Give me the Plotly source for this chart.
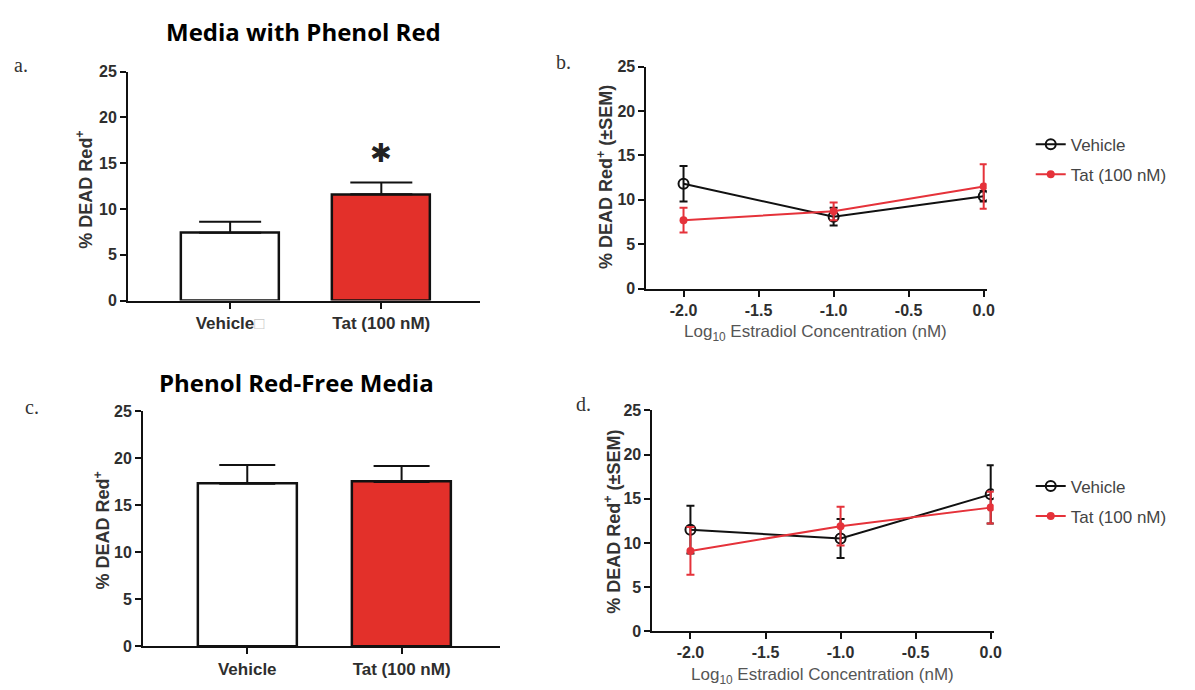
import plotly.graph_objects as go

W, H = 1195, 690

# ---------------- data ----------------
bar_categories = ["Vehicle", "Tat (100 nM)"]
bar_a_values = [7.4, 11.6]
bar_a_sem = [1.2, 1.3]
bar_c_values = [17.3, 17.5]
bar_c_sem = [2.0, 1.7]

log_conc = [-2.0, -1.0, 0.0]
b_vehicle = [11.8, 8.1, 10.4]
b_vehicle_sem = [2.0, 1.0, 0.6]
b_tat = [7.7, 8.7, 11.5]
b_tat_sem = [1.4, 1.0, 2.5]

d_vehicle = [11.5, 10.5, 15.5]
d_vehicle_sem = [2.7, 2.2, 3.3]
d_tat = [9.1, 11.9, 14.0]
d_tat_sem = [2.7, 2.2, 1.8]

y_ticks = [0, 5, 10, 15, 20, 25]
x_ticks_line = [-2.0, -1.5, -1.0, -0.5, 0.0]
x_ticklabels_line = ["-2.0", "-1.5", "-1.0", "-0.5", "0.0"]

RED = "#e3302a"
LINE_RED = "#e5323a"
BLACK = "#111111"
TICK_GREY = "#2e2e2e"

# page -> screenshot correction (measured)
X_OFF, X_SC = 8.0, 0.9926
Y_OFF, Y_SC = 16.3, 0.976


def fx(px):
    return ((px - X_OFF) / X_SC) / W


def fy(py):
    return 1 - ((py - Y_OFF) / Y_SC) / H


fig = go.Figure()

# ---------- panel a ----------
fig.add_trace(go.Bar(
    x=[0, 1], y=bar_a_values,
    marker=dict(color=["white", RED], line=dict(color=BLACK, width=2.5)),
    width=0.65,
    error_y=dict(type="data", array=bar_a_sem, arrayminus=[0, 0], symmetric=False,
                 color=BLACK, thickness=2, width=31),
    xaxis="x", yaxis="y", showlegend=False,
))

# ---------- panel c ----------
fig.add_trace(go.Bar(
    x=[0, 1], y=bar_c_values,
    marker=dict(color=["white", RED], line=dict(color=BLACK, width=2.5)),
    width=0.64,
    error_y=dict(type="data", array=bar_c_sem, arrayminus=[0, 0], symmetric=False,
                 color=BLACK, thickness=2, width=28),
    xaxis="x3", yaxis="y3", showlegend=False,
))


def line_traces(xa, ya, veh, veh_sem, tat, tat_sem, legend):
    fig.add_trace(go.Scatter(
        x=log_conc, y=veh, mode="lines+markers", name="Vehicle",
        line=dict(color=BLACK, width=2),
        marker=dict(symbol="circle-open", size=10, color=BLACK, line=dict(width=2)),
        error_y=dict(type="data", array=veh_sem, color=BLACK, thickness=2, width=4),
        xaxis=xa, yaxis=ya, legend=legend, legendgroup="v" + legend,
    ))
    fig.add_trace(go.Scatter(
        x=log_conc, y=tat, mode="lines+markers", name="Tat (100 nM)",
        line=dict(color=LINE_RED, width=2),
        marker=dict(symbol="circle", size=8, color=LINE_RED),
        error_y=dict(type="data", array=tat_sem, color=LINE_RED, thickness=2, width=4),
        xaxis=xa, yaxis=ya, legend=legend, legendgroup="t" + legend,
    ))


line_traces("x2", "y2", b_vehicle, b_vehicle_sem, b_tat, b_tat_sem, "legend")
line_traces("x4", "y4", d_vehicle, d_vehicle_sem, d_tat, d_tat_sem, "legend2")

sans = "Arial, Liberation Sans, sans-serif"
tickfont = dict(family=sans, size=16, color=TICK_GREY, weight="bold")
catfont = dict(family=sans, size=17, color=TICK_GREY, weight="bold")
axis_common = dict(showline=True, linecolor=BLACK, linewidth=2, ticks="outside",
                   ticklen=6, tickwidth=2, tickcolor=BLACK, showgrid=False, zeroline=False,
                   tickfont=tickfont, fixedrange=True)

yax = dict(axis_common, range=[0, 25], tickvals=y_ticks)

legend_font = dict(family=sans, size=17, color="#444")

fig.update_layout(
    width=W, height=H,
    margin=dict(l=0, r=0, t=0, b=0),
    paper_bgcolor="white", plot_bgcolor="white",
    bargap=0,
    # panel a
    xaxis=dict(axis_common, domain=[fx(128), fx(480)], range=[-0.675, 1.655],
               tickvals=[0, 1], ticktext=["Vehicle<span style='color:#c8c8c8'>□</span>", "Tat (100 nM)"],
               tickfont=catfont, anchor="y"),
    yaxis=dict(yax, domain=[fy(301), fy(72)], anchor="x"),
    # panel b
    xaxis2=dict(axis_common, domain=[fx(646), fx(986)], range=[-2.247, 0.02],
                tickvals=x_ticks_line, ticktext=x_ticklabels_line, anchor="y2"),
    yaxis2=dict(yax, domain=[fy(289), fy(67)], anchor="x2"),
    # panel c
    xaxis3=dict(axis_common, domain=[fx(143), fx(500)], range=[-0.675, 1.64],
                tickvals=[0, 1], ticktext=bar_categories, tickfont=catfont, anchor="y3"),
    yaxis3=dict(yax, domain=[fy(647), fy(412)], anchor="x3"),
    # panel d
    xaxis4=dict(axis_common, domain=[fx(652), fx(993)], range=[-2.253, 0.02],
                tickvals=x_ticks_line, ticktext=x_ticklabels_line, anchor="y4"),
    yaxis4=dict(yax, domain=[fy(632), fy(411)], anchor="x4"),
    legend=dict(x=fx(1030), y=fy(127), xanchor="left", yanchor="top",
                font=legend_font, tracegroupgap=5, itemwidth=30, bgcolor="rgba(0,0,0,0)"),
    legend2=dict(x=fx(1030), y=fy(469), xanchor="left", yanchor="top",
                 font=legend_font, tracegroupgap=5, itemwidth=30, bgcolor="rgba(0,0,0,0)"),
)

ann = []


def add_text(text, px, py, size, family, color="black", bold=False, angle=0, xanchor="center"):
    ann.append(dict(text=text, x=fx(px), y=fy(py), xref="paper", yref="paper",
                    xanchor=xanchor, yanchor="middle", showarrow=False, textangle=angle,
                    font=dict(size=size, family=family, color=color,
                              weight="bold" if bold else "normal")))


title_font = "Open Sans, sans-serif"
add_text("Media with Phenol Red", 303, 32, 24, title_font, bold=True)
add_text("Phenol Red-Free Media", 296, 383, 24, title_font, bold=True)

serif = "Liberation Serif, Times New Roman, serif"
add_text("a.", 21, 65, 20, serif, color="#333")
add_text("b.", 563, 62, 20, serif, color="#333")
add_text("c.", 32, 408, 20, serif, color="#333")
add_text("d.", 583, 405, 20, serif, color="#333")

add_text("% DEAD Red<sup>+</sup>", 85, 190, 18, sans, color="#333", bold=True, angle=-90)
add_text("% DEAD Red<sup>+</sup>", 102, 531, 18, sans, color="#333", bold=True, angle=-90)
add_text("% DEAD Red<sup>+</sup> (±SEM)", 605, 177, 18, sans, color="#333", bold=True, angle=-90)
add_text("% DEAD Red<sup>+</sup> (±SEM)", 612, 522, 18, sans, color="#333", bold=True, angle=-90)
add_text("Log<sub>10</sub> Estradiol Concentration (nM)", 815, 334, 17, sans, color="#555")
add_text("Log<sub>10</sub> Estradiol Concentration (nM)", 822, 677, 17, sans, color="#555")

# significance asterisk above Tat bar in panel a
add_text("✱", 381, 153, 26, "DejaVu Sans", color="#222")

fig.update_layout(annotations=ann)
fig.write_html("out.html")
